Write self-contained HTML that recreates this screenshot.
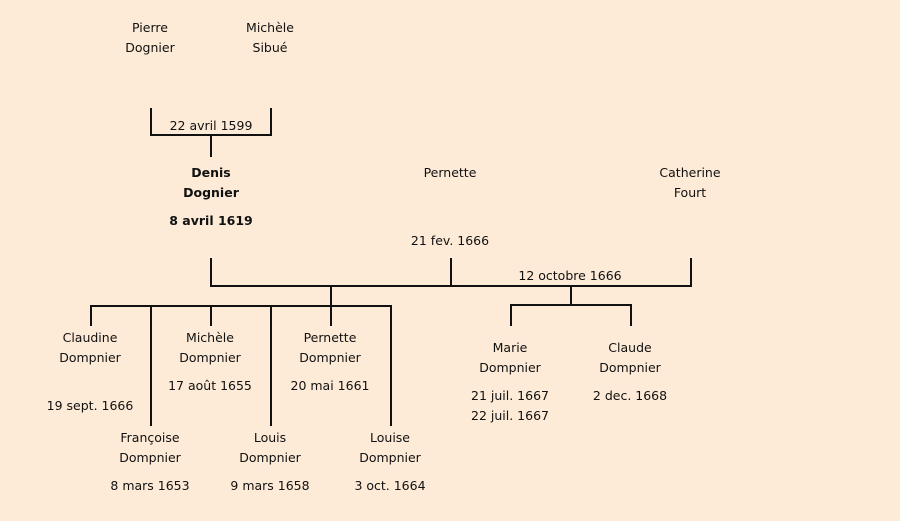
<!DOCTYPE html>
<html><head><meta charset="utf-8"><style>
html,body{margin:0;padding:0;background:#fdebd7;}
svg{display:block}
text{font-family:"DejaVu Sans","Liberation Sans",sans-serif;font-size:12.5px;fill:#111;text-anchor:middle}
.b{font-weight:bold}
</style></head><body>
<svg width="900" height="521" viewBox="0 0 900 521">
<rect width="900" height="521" fill="#fdebd7"/>
<g stroke="#111" stroke-width="2" fill="none">
<path d="M151 108V135H271V108M211 135V157"/>
<path d="M211 258V286H691V258M451 258V286M331 286V306M91 326V306H391V426M151 306V426M211 306V326M271 306V426M331 306V326"/>
<path d="M571 286V305M511 326V305H631V326"/>
</g>
<text x="150" y="32">Pierre</text><text x="150" y="52">Dognier</text>
<text x="270" y="32">Michèle</text><text x="270" y="52">Sibué</text>
<text x="211" y="130">22 avril 1599</text>
<text class="b" x="211" y="177">Denis</text><text class="b" x="211" y="197">Dognier</text>
<text class="b" x="211" y="225">8 avril 1619</text>
<text x="450" y="177">Pernette</text>
<text x="450" y="245">21 fev. 1666</text>
<text x="690" y="177">Catherine</text><text x="690" y="197">Fourt</text>
<text x="570" y="280">12 octobre 1666</text>
<text x="90" y="342">Claudine</text><text x="90" y="362">Dompnier</text>
<text x="90" y="410">19 sept. 1666</text>
<text x="210" y="342">Michèle</text><text x="210" y="362">Dompnier</text>
<text x="210" y="390">17 août 1655</text>
<text x="330" y="342">Pernette</text><text x="330" y="362">Dompnier</text>
<text x="330" y="390">20 mai 1661</text>
<text x="150" y="442">Françoise</text><text x="150" y="462">Dompnier</text>
<text x="150" y="490">8 mars 1653</text>
<text x="270" y="442">Louis</text><text x="270" y="462">Dompnier</text>
<text x="270" y="490">9 mars 1658</text>
<text x="390" y="442">Louise</text><text x="390" y="462">Dompnier</text>
<text x="390" y="490">3 oct. 1664</text>
<text x="510" y="352">Marie</text><text x="510" y="372">Dompnier</text>
<text x="510" y="400">21 juil. 1667</text><text x="510" y="420">22 juil. 1667</text>
<text x="630" y="352">Claude</text><text x="630" y="372">Dompnier</text>
<text x="630" y="400">2 dec. 1668</text>
</svg>
</body></html>
